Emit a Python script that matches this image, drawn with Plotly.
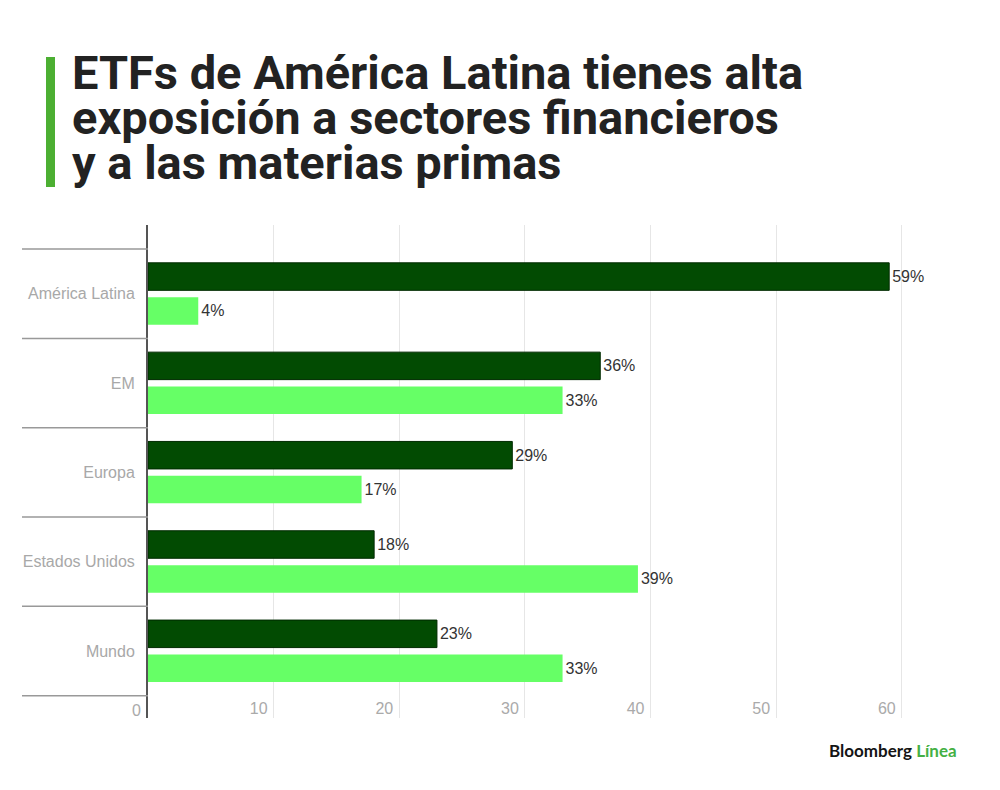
import plotly.graph_objects as go

categories = ["América Latina", "EM", "Europa", "Estados Unidos", "Mundo"]
financiero = [59, 36, 29, 18, 23]
materias_primas = [4, 33, 17, 39, 33]
x_ticks = [0, 10, 20, 30, 40, 50, 60]

title_lines = [
    "ETFs de América Latina tienes alta",
    "exposición a sectores financieros",
    "y a las materias primas",
]

# the page body adds ~8px around the figure, so work in screen pixels minus OFF
OFF = 8
W, H = 992, 782
L, T = 148 - OFF, 225 - OFF
B = H - (718 - OFF)
R = W - L - 804
PW, PH = W - L - R, H - T - B


def px_x(p):
    # screen pixel -> paper x
    return (p - OFF - L) / PW


def px_y(p):
    # screen pixel -> paper y
    return (H - B - (p - OFF)) / PH


fig = go.Figure()

fig.add_trace(
    go.Bar(
        name="Sector financiero",
        y=categories,
        x=financiero,
        orientation="h",
        marker=dict(color="#024b02", line=dict(color="#012a01", width=1)),
        texttemplate="%{x}%",
        textposition="outside",
        constraintext="none",
        cliponaxis=False,
        textfont=dict(family="Liberation Sans", size=16, color="#333333"),
    )
)
fig.add_trace(
    go.Bar(
        name="Materias primas",
        y=categories,
        x=materias_primas,
        orientation="h",
        marker=dict(color="#66ff66", line=dict(width=0)),
        texttemplate="%{x}%",
        textposition="outside",
        constraintext="none",
        cliponaxis=False,
        textfont=dict(family="Liberation Sans", size=16, color="#333333"),
    )
)

fig.update_layout(
    width=W,
    height=H,
    margin=dict(l=L, r=R, t=T, b=B),
    paper_bgcolor="white",
    plot_bgcolor="white",
    barmode="group",
    bargap=0.23,
    bargroupgap=0.2,
    showlegend=False,
    font=dict(family="Liberation Sans", size=15, color="#aaaaaa"),
)

fig.update_xaxes(
    range=[0, 64],
    tickvals=x_ticks,
    showgrid=True,
    gridcolor="#e6e6e6",
    gridwidth=1,
    zeroline=False,
    showline=False,
    ticks="",
    ticklabelposition="inside left",
    ticklabelshift=-6,
    ticklabelstandoff=-5,
    tickfont=dict(size=16, color="#aaaaaa"),
)
fig.update_yaxes(
    type="category",
    categoryarray=categories,
    range=[len(categories) - 0.25, -0.77],
    showgrid=False,
    zeroline=False,
    showline=True,
    linecolor="#555555",
    linewidth=2,
    ticks="",
    ticklabelstandoff=8,
    tickfont=dict(size=16, color="#a8a8a8"),
)

# the "0" label sits left of the axis line, outside the plot area
fig.add_annotation(
    text=str(x_ticks[0]),
    xref="x",
    yref="paper",
    x=x_ticks[0],
    y=px_y(710),
    xanchor="right",
    yanchor="middle",
    xshift=-5,
    showarrow=False,
    font=dict(family="Liberation Sans", size=16, color="#aaaaaa"),
)

# category separators on the left
for i in range(len(categories) + 1):
    fig.add_shape(
        type="line",
        xref="paper",
        yref="y",
        x0=px_x(22),
        x1=0,
        y0=i - 0.5,
        y1=i - 0.5,
        line=dict(color="#999999", width=1.5),
    )

# green accent bar next to title
fig.add_shape(
    type="rect",
    xref="paper",
    yref="paper",
    x0=px_x(46),
    x1=px_x(55),
    y0=px_y(187),
    y1=px_y(57),
    fillcolor="#4caf32",
    line=dict(width=0),
)

for line, yc in zip(title_lines, [72, 118, 163]):
    fig.add_annotation(
        text=line,
        xref="paper",
        yref="paper",
        x=px_x(70),
        y=px_y(yc),
        xanchor="left",
        yanchor="middle",
        showarrow=False,
        font=dict(family="Roboto", size=47, color="#222222", weight=700),
    )

fig.add_annotation(
    text="Bloomberg <span style='color:#44b044'>Línea</span>",
    xref="paper",
    yref="paper",
    x=px_x(959),
    y=px_y(750),
    xanchor="right",
    yanchor="middle",
    showarrow=False,
    font=dict(family="Lato", size=17, color="#151515", weight=700),
)

fig.write_html("out.html")
